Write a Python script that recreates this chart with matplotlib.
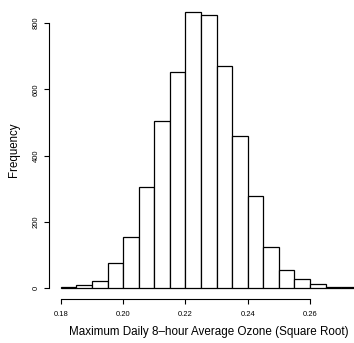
import matplotlib
matplotlib.use("Agg")
import matplotlib.pyplot as plt

# histogram of sqrt(max daily 8-hour ozone), bin width 0.005
bin_left = [0.180, 0.185, 0.190, 0.195, 0.200, 0.205, 0.210, 0.215, 0.220, 0.225,
            0.230, 0.235, 0.240, 0.245, 0.250, 0.255, 0.260, 0.265, 0.270]
counts = [3, 10, 22, 75, 155, 304, 503, 653, 835, 826,
          670, 458, 279, 123, 54, 27, 11, 4, 2]
bin_width = 0.005

xticks = [0.18, 0.20, 0.22, 0.24, 0.26]
xtick_labels = ["0.18", "0.20", "0.22", "0.24", "0.26"]
yticks = [0, 200, 400, 600, 800]

plt.rcParams['font.family'] = ['Liberation Sans', 'DejaVu Sans']

W, H = 354, 343
fig = plt.figure(figsize=(W / 100, H / 100), dpi=100)

# plot region in pixels (R style, runs past the right edge of the picture)
left_px, right_px, top_px, bottom_px = 49, 368.6, 0.5, 299
ax = fig.add_axes([left_px / W, (H - bottom_px) / H,
                   (right_px - left_px) / W, (bottom_px - top_px) / H])

ax.bar(bin_left, counts, width=bin_width, align='edge',
       facecolor='white', edgecolor='black', linewidth=0.9)

xmin, xmax = bin_left[0], bin_left[-1] + bin_width
pad = 0.04 * (xmax - xmin)
ax.set_xlim(xmin - pad, xmax + pad)
ymax = max(counts)
ax.set_ylim(-0.04 * ymax, 1.04 * ymax)

for s in ['top', 'right']:
    ax.spines[s].set_visible(False)
ax.spines['left'].set_bounds(yticks[0], yticks[-1])
ax.spines['bottom'].set_bounds(xticks[0], xticks[-1])
for s in ['left', 'bottom']:
    ax.spines[s].set_linewidth(0.8)

ax.set_xticks(xticks)
ax.set_xticklabels(xtick_labels)
ax.set_yticks(yticks)
ax.set_yticklabels([str(v) for v in yticks], rotation=90, va='center')
ax.tick_params(axis='both', direction='out', length=3.5, width=0.8,
               labelsize=5.5, colors='black')
ax.tick_params(axis='x', pad=4.8)
ax.tick_params(axis='y', pad=3)

ax.set_xlabel("Maximum Daily 8\u2013hour Average Ozone (Square Root)", fontsize=8.4)
ax.xaxis.set_label_coords(0.5, -(331.5 - bottom_px) / (bottom_px - top_px))
ax.xaxis.label.set_va('center')
ax.set_ylabel("Frequency", fontsize=8.3)
ax.yaxis.set_label_coords(-(left_px - 14) / (right_px - left_px), 0.5)
ax.yaxis.label.set_va('center')

fig.savefig("out.png", dpi=100)
